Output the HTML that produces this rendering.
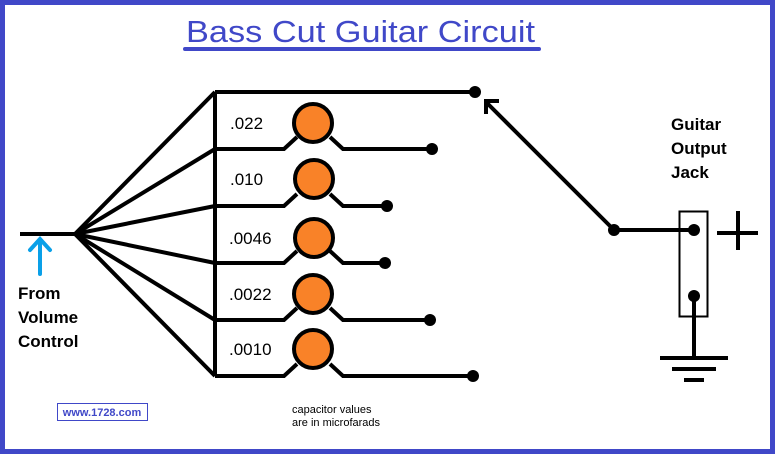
<!DOCTYPE html>
<html><head><style>body{margin:0;background:#fff}</style></head><body>
<svg width="775" height="454" viewBox="0 0 775 454" xmlns="http://www.w3.org/2000/svg" font-family="Liberation Sans, Arial, sans-serif">
<rect x="2.5" y="2.5" width="770" height="449" fill="#fff" stroke="#4048c8" stroke-width="5"/>
<text x="186" y="42" font-size="31" fill="#4048c8" textLength="349" lengthAdjust="spacingAndGlyphs">Bass Cut Guitar Circuit</text>
<line x1="185" y1="49" x2="539" y2="49" stroke="#4048c8" stroke-width="4" stroke-linecap="round"/>
<g stroke="#000" stroke-width="4" fill="none">
<line x1="20" y1="234" x2="75" y2="234"/>
<line x1="75" y1="234" x2="215" y2="92"/>
<line x1="75" y1="234" x2="215" y2="149"/>
<line x1="75" y1="234" x2="215" y2="206"/>
<line x1="75" y1="234" x2="215" y2="263"/>
<line x1="75" y1="234" x2="215" y2="320"/>
<line x1="75" y1="234" x2="215" y2="376"/>
<line x1="215" y1="92" x2="215" y2="376"/>
<line x1="215" y1="92" x2="475" y2="92"/>
<polyline points="215,149 284,149 297,137"/><polyline points="330,137 343,149 432,149"/>
<polyline points="215,206 284,206 297,194"/><polyline points="330,194 343,206 387,206"/>
<polyline points="215,263 284,263 297,251"/><polyline points="330,251 343,263 385,263"/>
<polyline points="215,320 284,320 297,308"/><polyline points="330,308 343,320 430,320"/>
<polyline points="215,376 284,376 297,364"/><polyline points="330,364 343,376 473,376"/>
<line x1="614" y1="230" x2="486" y2="102"/>
<polyline points="486,114 486,101 499,101"/>
<line x1="614" y1="230" x2="694" y2="230"/>
<line x1="694" y1="296" x2="694" y2="358"/>
<line x1="660" y1="358" x2="728" y2="358"/>
<line x1="672" y1="369" x2="716" y2="369"/>
<line x1="684" y1="380" x2="704" y2="380"/>
<line x1="717" y1="233" x2="758" y2="233"/>
<line x1="738" y1="211" x2="738" y2="250"/>
</g>
<rect x="679.5" y="211.5" width="28" height="105" fill="none" stroke="#000" stroke-width="2"/>
<g fill="#f98228" stroke="#000" stroke-width="4">
<circle cx="313" cy="123" r="19"/><circle cx="314" cy="179" r="19"/><circle cx="314" cy="238" r="19"/><circle cx="313" cy="294" r="19"/><circle cx="313" cy="349" r="19"/>
</g>
<g fill="#000">
<circle cx="475" cy="92" r="6"/><circle cx="432" cy="149" r="6"/><circle cx="387" cy="206" r="6"/><circle cx="385" cy="263" r="6"/><circle cx="430" cy="320" r="6"/><circle cx="473" cy="376" r="6"/>
<circle cx="614" cy="230" r="6"/><circle cx="694" cy="230" r="6"/><circle cx="694" cy="296" r="6"/>
</g>
<g stroke="#0aa0e8" stroke-width="4" fill="none" stroke-linecap="round">
<line x1="40" y1="274" x2="40" y2="240"/><polyline points="30,250 40,239 50,250"/>
</g>
<g font-size="17" fill="#000">
<text x="230" y="129">.022</text><text x="230" y="185">.010</text><text x="229" y="244">.0046</text><text x="229" y="300">.0022</text><text x="229" y="355">.0010</text>
</g>
<g font-size="17" font-weight="bold" fill="#000">
<text x="18" y="299">From</text><text x="18" y="323">Volume</text><text x="18" y="347">Control</text>
<text x="671" y="130">Guitar</text><text x="671" y="154">Output</text><text x="671" y="178">Jack</text>
</g>
<rect x="57.5" y="403.5" width="90" height="17" fill="none" stroke="#4048c8" stroke-width="1"/>
<text x="102" y="416" font-size="11" font-weight="bold" fill="#4048c8" text-anchor="middle">www.1728.com</text>
<text x="292" y="413" font-size="11" fill="#000">capacitor values</text>
<text x="292" y="426" font-size="11" fill="#000">are in microfarads</text>
</svg>
</body></html>
